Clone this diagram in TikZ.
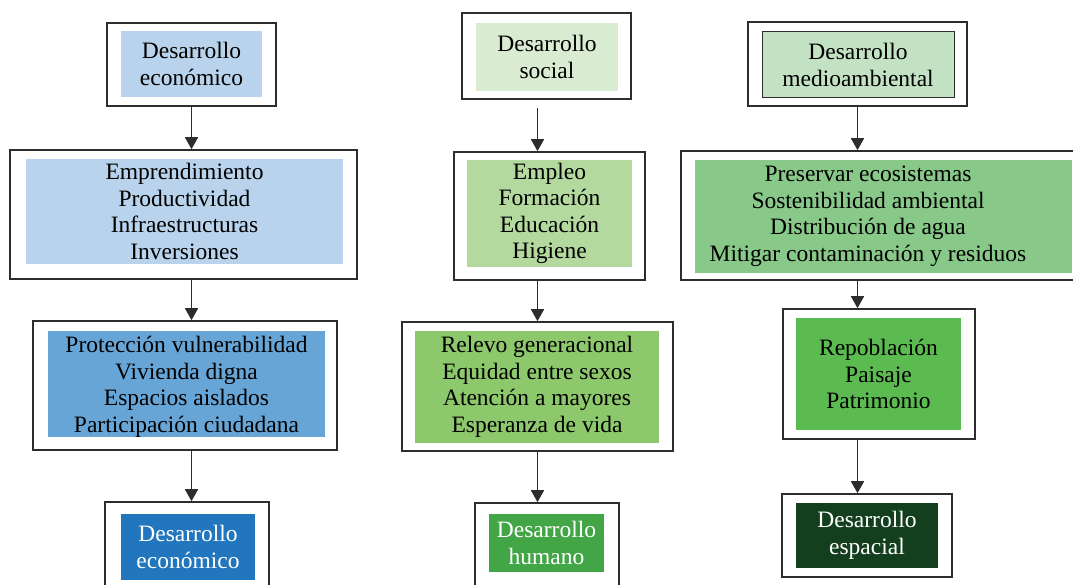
\documentclass[tikz,border=0pt]{standalone}
\usepackage{fontspec}
\setmainfont{Liberation Serif}
\usetikzlibrary{arrows.meta}
\definecolor{cA}{RGB}{184,211,235}
\definecolor{cC}{RGB}{104,165,215}
\definecolor{cD}{RGB}{33,118,189}
\definecolor{cE}{RGB}{217,235,209}
\definecolor{cF}{RGB}{179,217,159}
\definecolor{cG}{RGB}{141,200,108}
\definecolor{cH}{RGB}{67,166,70}
\definecolor{cI}{RGB}{195,226,195}
\definecolor{cJ}{RGB}{136,200,136}
\definecolor{cK}{RGB}{91,186,80}
\definecolor{cL}{RGB}{19,63,30}
\definecolor{lineC}{RGB}{45,45,45}
\tikzset{
  outerbox/.style={draw=lineC, line width=1.6pt, fill=white, rectangle, inner sep=0pt},
  innerbox/.style={rectangle, inner sep=0pt, align=center, font=\fontsize{23.5}{26.5}\selectfont, text=black},
  whitetext/.style={text=white},
  txt/.style={inner sep=0pt, align=center, font=\fontsize{23.5}{26.5}\selectfont},
  arr/.style={draw=lineC, line width=1.6pt, -{Triangle[width=13pt,length=12pt]}},
}
\begin{document}
\begin{tikzpicture}[x=1pt,y=-1pt]
\path[use as bounding box, fill=white] (0,0) rectangle (1073,585);
\clip (0,0) rectangle (1073,585);
% column 1
\node[outerbox, minimum width=169, minimum height=83] (A) at (191.5,64.5) {};
\node[innerbox, fill=cA, minimum width=141, minimum height=66] (a) at (191.5,64) {Desarrollo\\econ\'omico};
\node[outerbox, minimum width=347, minimum height=129] (B) at (183.5,214.5) {};
\node[innerbox, fill=cA, minimum width=317, minimum height=105] (b) at (184.5,211.5) {Emprendimiento\\Productividad\\Infraestructuras\\Inversiones};
\node[outerbox, minimum width=304, minimum height=129] (C) at (185,385.5) {};
\node[innerbox, fill=cC, minimum width=277, minimum height=106] (c) at (186.5,384) {};
\node[txt] (ct) at (186.5,387) {Protecci\'on vulnerabilidad\\Vivienda digna\\Espacios aislados\\Participaci\'on ciudadana};
\node[outerbox, minimum width=164, minimum height=118] (D) at (187,561) {};
\node[innerbox, whitetext, fill=cD, minimum width=134, minimum height=66] (d) at (188,547) {Desarrollo\\econ\'omico};
% column 2
\node[outerbox, minimum width=169, minimum height=86] (E) at (546.5,56) {};
\node[innerbox, fill=cE, minimum width=142, minimum height=68] (e) at (547,57) {Desarrollo\\social};
\node[outerbox, minimum width=191, minimum height=128] (F) at (549.5,216) {};
\node[innerbox, fill=cF, minimum width=165, minimum height=107] (f) at (549.5,213.5) {Empleo\\Formaci\'on\\Educaci\'on\\Higiene};
\node[outerbox, minimum width=271, minimum height=129] (G) at (537.5,386.5) {};
\node[innerbox, fill=cG, minimum width=244, minimum height=112] (g) at (537,387) {Relevo generacional\\Equidad entre sexos\\Atenci\'on a mayores\\Esperanza de vida};
\node[outerbox, minimum width=144, minimum height=117] (H) at (547,561.5) {};
\node[innerbox, whitetext, fill=cH, minimum width=115, minimum height=58] (h) at (546.5,543) {Desarrollo\\humano};
% column 3
\node[outerbox, minimum width=219, minimum height=84] (I) at (857.5,64) {};
\node[innerbox, fill=cI, draw=lineC, line width=1pt, minimum width=192, minimum height=66] (i) at (858,65) {Desarrollo\\medioambiental};
\node[outerbox, minimum width=409, minimum height=129] (J) at (885.5,215.5) {};
\node[innerbox, fill=cJ, minimum width=377, minimum height=113] (j) at (883.5,216.5) {};
\node[txt] (jt) at (868,216.5) {Preservar ecosistemas\\Sostenibilidad ambiental\\Distribuci\'on de agua\\Mitigar contaminaci\'on y residuos};
\node[outerbox, minimum width=192, minimum height=130] (K) at (879,374) {};
\node[innerbox, fill=cK, minimum width=165, minimum height=112] (k) at (878.5,374) {Repoblaci\'on\\Paisaje\\Patrimonio};
\node[outerbox, minimum width=170, minimum height=83] (L) at (867,535.5) {};
\node[innerbox, whitetext, fill=cL, minimum width=142, minimum height=65] (l) at (867,535.5) {Desarrollo\\espacial};
% arrows
\draw[arr] (A.south) -- (A.south |- B.north);
\draw[arr] (A.south |- B.south) -- (A.south |- C.north);
\draw[arr] (A.south |- C.south) -- (A.south |- D.north);
\draw[arr] ([yshift=-8pt]G.north |- E.south) -- (G.north |- F.north);
\draw[arr] (G.north |- F.south) -- (G.north);
\draw[arr] (G.south) -- (G.south |- H.north);
\draw[arr] (I.south) -- (I.south |- J.north);
\draw[arr] (I.south |- J.south) -- (I.south |- K.north);
\draw[arr] (I.south |- K.south) -- (I.south |- L.north);
\end{tikzpicture}
\end{document}
